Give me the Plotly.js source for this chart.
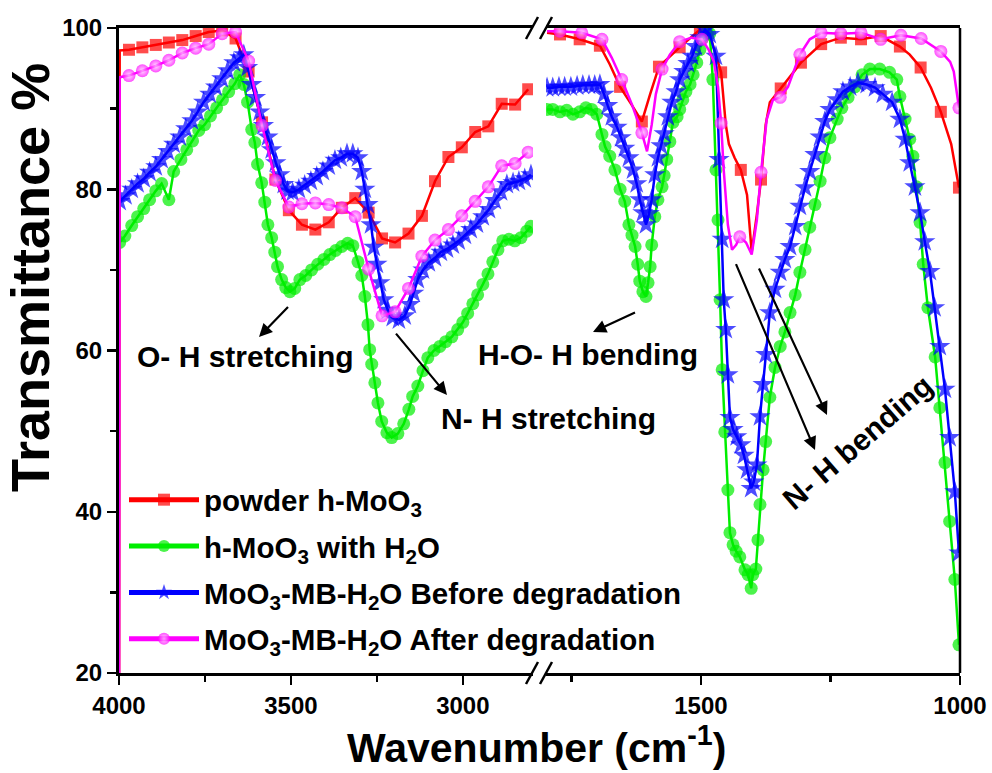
<!DOCTYPE html>
<html>
<head>
<meta charset="utf-8">
<script src="https://cdn.plot.ly/plotly-3.0.1.min.js"></script>
<style>html,body{margin:0;padding:0;background:#fff}#chart{width:992px;height:773px}</style>
</head>
<body>
<div id="chart"></div>
<script>
// ---------------- data ----------------
const seriesNames = [
  'powder h-MoO<sub>3</sub>',
  'h-MoO<sub>3</sub> with H<sub>2</sub>O',
  'MoO<sub>3</sub>-MB-H<sub>2</sub>O Before degradation',
  'MoO<sub>3</sub>-MB-H<sub>2</sub>O After degradation'
];

// powder h-MoO3
const redLeftX = [4000,3998,3971,3932,3893,3855,3816,3777,3739,3700,3661,3623,3584,3545,3506,3468,3429,3390,3352,3313,3274,3235,3197,3158,3119,3081,3042,3003,2964,2926,2887,2848,2810];
const redLeftY = [0,97.2,97.3,97.6,97.9,98.2,98.5,99.0,99.5,99.7,98.7,94.6,88.3,81.2,77.4,75.6,75.0,75.9,77.7,78.9,77.1,73.9,73.4,74.5,76.7,81.0,84.0,85.2,87.1,87.8,90.6,90.5,92.4];
const redLeftNoMark = [4000,3998];
const redRightX = [1797,1772,1734,1695,1676,1656,1633,1614,1598,1581,1541,1502,1479,1461,1452,1446,1435,1423,1411,1402,1392,1384,1375,1367,1346,1326,1307,1268,1230,1191,1153,1116,1097,1076,1056,1037,1017,1002];
const redRightY = [99.4,99.2,98.6,97.8,95.5,92.7,90.4,88.4,91.8,95.2,97.6,99.8,98.3,94.5,88.0,85.6,83.9,82.4,79.3,72.2,76.9,81.2,88.0,90.8,92.5,94.2,95.7,98.0,98.8,98.6,99.0,97.7,96.7,95.1,92.6,89.6,85.6,80.2];
const redRightNoMark = [1797,1676,1633,1598,1479,1452,1446,1435,1411,1402,1392,1375,1367,1326,1097,1056,1017];

// h-MoO3 with H2O
const greenLeftX = [3998,3983,3963,3946,3928,3911,3893,3876,3855,3841,3820,3803,3786,3768,3751,3734,3716,3699,3681,3663,3649,3637,3626,3614,3605,3597,3585,3576,3567,3556,3547,3539,3527,3515,3503,3489,3474,3457,3440,3422,3404,3387,3370,3352,3335,3320,3305,3294,3285,3276,3271,3265,3256,3247,3236,3221,3207,3189,3172,3157,3146,3131,3116,3102,3084,3067,3050,3032,3015,3000,2986,2971,2957,2942,2927,2913,2898,2884,2866,2849,2831,2814,2802];
const greenLeftY = [73.4,74.2,75.5,76.6,77.6,78.7,79.8,80.7,78.7,82.2,83.7,84.9,86.0,87.3,88.0,89.1,90.1,91.1,92.1,93.1,94.2,93.0,90.8,87.4,85.8,83.1,80.8,78.4,75.6,74.0,72.2,70.4,68.8,67.8,67.3,67.7,68.8,69.3,70.0,70.7,71.3,71.9,72.4,72.9,73.3,73.0,71.0,69.3,66.7,63.2,60.1,58.3,56.0,53.5,51.2,49.8,49.2,49.7,50.9,52.7,54.3,55.6,57.5,59.1,60.0,60.5,61.1,61.7,62.6,63.5,64.6,65.8,66.9,68.2,69.5,71.0,72.5,73.6,73.8,73.6,74.0,74.8,75.4];
const greenRightX = [1797,1786,1772,1759,1747,1734,1722,1711,1701,1691,1685,1676,1666,1656,1647,1639,1633,1627,1622,1618,1612,1606,1602,1598,1595,1589,1583,1575,1571,1566,1560,1554,1546,1541,1535,1529,1521,1515,1508,1502,1496,1488,1483,1477,1471,1467,1463,1459,1454,1448,1444,1438,1432,1425,1415,1409,1403,1400,1394,1390,1386,1380,1375,1367,1357,1347,1338,1328,1318,1309,1299,1290,1280,1270,1261,1251,1237,1228,1216,1203,1189,1174,1155,1136,1122,1116,1106,1097,1091,1084,1077,1071,1062,1048,1039,1029,1020,1010,1002];
const greenRightY = [89.9,89.9,89.6,89.8,89.3,89.6,90.1,89.9,89.3,86.8,85.3,84.1,82.4,80.0,78.5,75.6,74.3,72.9,70.7,68.6,67.3,66.7,68.4,70.4,73.1,76.6,78.7,80.3,81.7,83.7,85.9,88.3,89.0,89.9,91.1,92.1,93.0,94.2,95.7,97.3,98.8,99.4,99.3,93.6,82.4,76.2,66.3,57.6,49.9,42.7,37.4,35.9,35.1,34.4,32.8,32.2,30.5,32.2,32.9,36.5,40.9,45.2,48.7,54.2,57.9,60.5,62.3,64.7,66.9,69.7,72.5,75.3,78.1,81.0,83.9,86.4,88.7,90.1,91.4,92.7,94.2,94.9,94.9,94.5,93.6,91.5,88.7,86.2,84.1,80.3,75.9,70.7,65.3,59.2,52.9,46.1,38.8,31.6,23.5];

// MoO3-MB-H2O before degradation
const blueLeftX = [3998,3981,3963,3946,3928,3911,3893,3876,3858,3841,3823,3806,3788,3771,3754,3736,3719,3701,3684,3666,3649,3637,3626,3614,3603,3591,3580,3567,3556,3544,3532,3521,3510,3495,3477,3460,3442,3425,3407,3390,3372,3355,3337,3320,3305,3294,3285,3276,3267,3259,3250,3241,3230,3218,3204,3186,3169,3154,3143,3131,3116,3099,3081,3064,3046,3029,3012,2994,2977,2959,2942,2924,2907,2889,2872,2854,2837,2820,2802];
const blueLeftY = [78.5,79.2,80.0,80.7,81.3,82.1,82.8,83.7,84.7,85.6,86.5,87.5,88.5,89.6,90.8,91.8,92.7,93.7,94.7,95.7,96.3,96.7,95.1,93.0,91.4,89.6,87.9,86.5,84.9,83.3,81.8,80.6,79.8,79.6,80.0,80.5,81.0,81.6,82.2,82.9,83.6,83.9,84.4,84.4,83.9,82.2,80.0,78.1,75.6,72.8,70.7,68.4,66.3,65.0,64.1,63.8,64.3,65.7,67.1,68.8,70.0,70.9,71.5,72.2,72.6,73.1,73.6,74.3,75.0,75.7,76.6,77.5,78.6,79.7,80.6,80.8,81.0,81.3,81.8];
const blueRightX = [1797,1786,1774,1763,1751,1739,1728,1716,1705,1695,1687,1680,1672,1662,1654,1647,1639,1631,1624,1618,1612,1606,1600,1595,1589,1583,1577,1571,1564,1556,1548,1541,1533,1525,1517,1510,1502,1492,1483,1471,1465,1459,1456,1452,1448,1444,1438,1431,1423,1417,1411,1403,1398,1392,1386,1380,1375,1367,1357,1347,1338,1328,1318,1309,1299,1290,1280,1270,1261,1251,1237,1226,1212,1197,1180,1164,1149,1131,1116,1106,1097,1087,1077,1068,1058,1049,1039,1029,1020,1010,1002];
const blueRightY = [92.6,92.6,92.7,92.7,92.7,92.8,92.9,92.9,92.9,93.0,91.8,90.4,89.0,87.7,86.4,85.1,83.9,82.4,80.7,78.7,77.1,75.6,77.0,78.7,81.8,83.9,85.4,86.9,89.0,90.8,92.1,93.6,94.6,95.6,96.5,97.7,98.8,99.8,99.2,96.5,83.7,73.8,66.3,62.6,57.0,51.7,50.2,49.3,48.3,47.0,45.2,42.9,43.7,45.8,51.8,55.8,59.5,64.7,67.6,69.7,71.3,72.9,75.4,77.9,80.2,82.2,84.3,86.5,88.4,89.9,91.1,92.1,92.7,93.2,93.0,92.6,91.8,90.8,88.7,86.2,83.3,80.3,77.1,73.5,69.8,65.3,60.5,55.2,49.2,42.5,34.9];

// MoO3-MB-H2O after degradation
const pinkLeftX = [4000,3998,3971,3932,3893,3855,3816,3777,3739,3700,3661,3623,3584,3545,3506,3468,3429,3390,3352,3313,3274,3235,3197,3158,3119,3081,3042,3003,2964,2926,2887,2848,2810];
const pinkLeftY = [0,93.9,94.1,94.7,95.3,96.0,96.9,97.5,98.0,99.3,99.5,95.9,87.9,81.1,77.8,78.2,78.3,78.1,77.7,76.6,70.1,64.3,64.8,67.7,71.7,73.7,75.0,76.7,78.5,80.3,82.9,83.2,84.6];
const pinkLeftNoMark = [4000,3998];
const pinkRightX = [1797,1772,1730,1691,1672,1653,1633,1614,1604,1595,1587,1575,1560,1541,1519,1498,1485,1475,1467,1461,1456,1448,1440,1432,1425,1413,1402,1392,1384,1373,1361,1347,1332,1309,1290,1268,1230,1191,1153,1114,1075,1037,1019,1012,1002];
const pinkRightY = [99.6,99.6,99.4,98.6,96.3,93.6,90.5,87.0,84.7,88.0,91.8,94.9,96.7,98.3,98.8,98.6,97.3,95.8,92.7,88.2,82.4,75.6,72.5,73.1,74.1,73.4,71.9,76.2,82.1,88.7,91.1,91.4,92.7,96.7,98.6,99.4,99.3,99.4,98.6,99.1,98.7,97.1,95.8,94.6,90.1];
const pinkRightNoMark = [1797,1672,1633,1604,1595,1587,1560,1519,1485,1475,1467,1456,1448,1440,1432,1413,1402,1392,1373,1361,1332,1290,1019,1012];

const leftRange = [4000, 2796];
const rightRange = [1799, 1000];
const yRange = [20, 100];

const annotTexts = ['O- H stretching', 'N- H stretching', 'H-O- H bending', 'N- H bending'];
const xTitle = 'Wavenumber (cm<sup>-1</sup>)';
const yTitle = 'Transmittance %';

// ---------------- layout helpers ----------------
const W = 992, H = 773, ML = 119, MR = 32, MT = 28, MB = 100;
const PW = W - ML - MR, PH = H - MT - MB;
const px2x = p => (p - ML) / PW;
const px2y = p => (H - MB - p) / PH;
const FONT = 'Liberation Sans, Arial, sans-serif';

function sizesFor(xs, noMark, s) {
  return xs.map(x => (noMark && noMark.indexOf(x) >= 0) ? 0 : s);
}

const styles = [
  {color: '#ff0000', symbol: 'square', size: 12},
  {color: '#00ee00', symbol: 'circle', size: 13},
  {color: '#0000ff', symbol: 'star', size: 16},
  {color: '#ff00ff', symbol: 'circle', size: 13, gradient: {type: 'radial', color: '#ffd6ff'}}
];

const segs = [
  [[redLeftX, redLeftY, redLeftNoMark], [redRightX, redRightY, redRightNoMark]],
  [[greenLeftX, greenLeftY, null], [greenRightX, greenRightY, null]],
  [[blueLeftX, blueLeftY, null], [blueRightX, blueRightY, null]],
  [[pinkLeftX, pinkLeftY, pinkLeftNoMark], [pinkRightX, pinkRightY, pinkRightNoMark]]
];

const traces = [];
segs.forEach((pair, i) => {
  const st = styles[i];
  pair.forEach((seg, j) => {
    const marker = {color: st.color, symbol: st.symbol, size: sizesFor(seg[0], seg[2], st.size), line: {width: 0}};
    if (st.gradient) marker.gradient = st.gradient;
    traces.push({
      type: 'scatter', mode: 'lines+markers',
      x: seg[0], y: seg[1],
      xaxis: j === 0 ? 'x' : 'x2', yaxis: 'y',
      name: seriesNames[i], legendgroup: 'g' + i, showlegend: j === 0,
      line: {color: st.color, width: 2.5},
      marker: marker
    });
  });
});

const tickFont = {family: FONT, size: 24, color: '#000', weight: 'bold'};
function xAxis(domain, range) {
  return {
    domain: domain, range: range, anchor: 'y',
    tick0: 0, dtick: 500, ticks: 'outside', ticklen: 9, tickwidth: 2.5, tickcolor: '#000',
    minor: {dtick: 250, ticks: 'outside', ticklen: 6, tickwidth: 2.5, tickcolor: '#000', showgrid: false},
    showline: true, linewidth: 3, linecolor: '#000', mirror: true,
    showgrid: false, zeroline: false, tickfont: tickFont
  };
}

const annFont = {family: FONT, size: 30, color: '#000', weight: 'bold'};
const annotations = [
  {text: annotTexts[0], x: px2x(245), y: px2y(356)},
  {text: annotTexts[1], x: px2x(548), y: px2y(418)},
  {text: annotTexts[2], x: px2x(588), y: px2y(355)},
  {text: annotTexts[3], x: px2x(857), y: px2y(442), textangle: -41}
].map(a => Object.assign({xref: 'paper', yref: 'paper', showarrow: false, xanchor: 'center', yanchor: 'middle', font: annFont}, a));

// arrows: head position + tail offset in px
[[259, 337, 32, -33], [447, 395, -54, -65], [593, 332, 45, -21], [815, 450, -82, -193], [827, 415, -71, -153]].forEach(a => {
  annotations.push({xref: 'paper', yref: 'paper', x: px2x(a[0]), y: px2y(a[1]), ax: a[2], ay: a[3], text: ' ',
    showarrow: true, arrowhead: 2, arrowsize: 1.2, arrowwidth: 2.2, arrowcolor: '#000'});
});

annotations.push({xref: 'paper', yref: 'paper', x: px2x(536), y: px2y(745), text: xTitle, showarrow: false,
  xanchor: 'center', yanchor: 'middle', font: {family: FONT, size: 41, color: '#000', weight: 'bold'}});
annotations.push({xref: 'paper', yref: 'paper', x: px2x(30), y: px2y(278), text: yTitle, showarrow: false, textangle: -90,
  xanchor: 'center', yanchor: 'middle', font: {family: FONT, size: 54, color: '#000', weight: 'bold'}});

// axis-break marks and right frame
const shapes = [{type: 'line', xref: 'paper', yref: 'paper', x0: 1, x1: 1, y0: 0, y1: 1, line: {color: '#000', width: 2.5}}];
[[526, 538], [540, 552]].forEach(s => {
  [MT, H - MB].forEach(yc => {
    shapes.push({type: 'line', xref: 'paper', yref: 'paper', x0: px2x(s[0]), x1: px2x(s[1]), y0: px2y(yc + 11), y1: px2y(yc - 11), line: {color: '#000', width: 2.5}});
  });
});

const layout = {
  width: W, height: H,
  margin: {l: ML, r: MR, t: MT, b: MB, pad: 0},
  paper_bgcolor: '#fff', plot_bgcolor: '#fff',
  xaxis: xAxis([0, px2x(533)], leftRange),
  xaxis2: xAxis([px2x(546), 1], rightRange),
  yaxis: {
    range: yRange, anchor: 'x', tick0: 0, dtick: 20,
    ticks: 'outside', ticklen: 9, tickwidth: 2.5, tickcolor: '#000',
    minor: {dtick: 10, ticks: 'outside', ticklen: 6, tickwidth: 2.5, tickcolor: '#000', showgrid: false},
    showline: true, linewidth: 3, linecolor: '#000', showgrid: false, zeroline: false, tickfont: tickFont
  },
  showlegend: true,
  legend: {x: px2x(124), y: px2y(474), xanchor: 'left', yanchor: 'top', bgcolor: 'rgba(0,0,0,0)',
    font: {family: FONT, size: 29.5, color: '#000', weight: 'bold'}, itemsizing: 'constant', itemwidth: 70,
    traceorder: 'grouped', tracegroupgap: 5},
  annotations: annotations,
  shapes: shapes
};

Plotly.newPlot('chart', traces, layout, {staticPlot: true, displayModeBar: false});
</script>
</body>
</html>
